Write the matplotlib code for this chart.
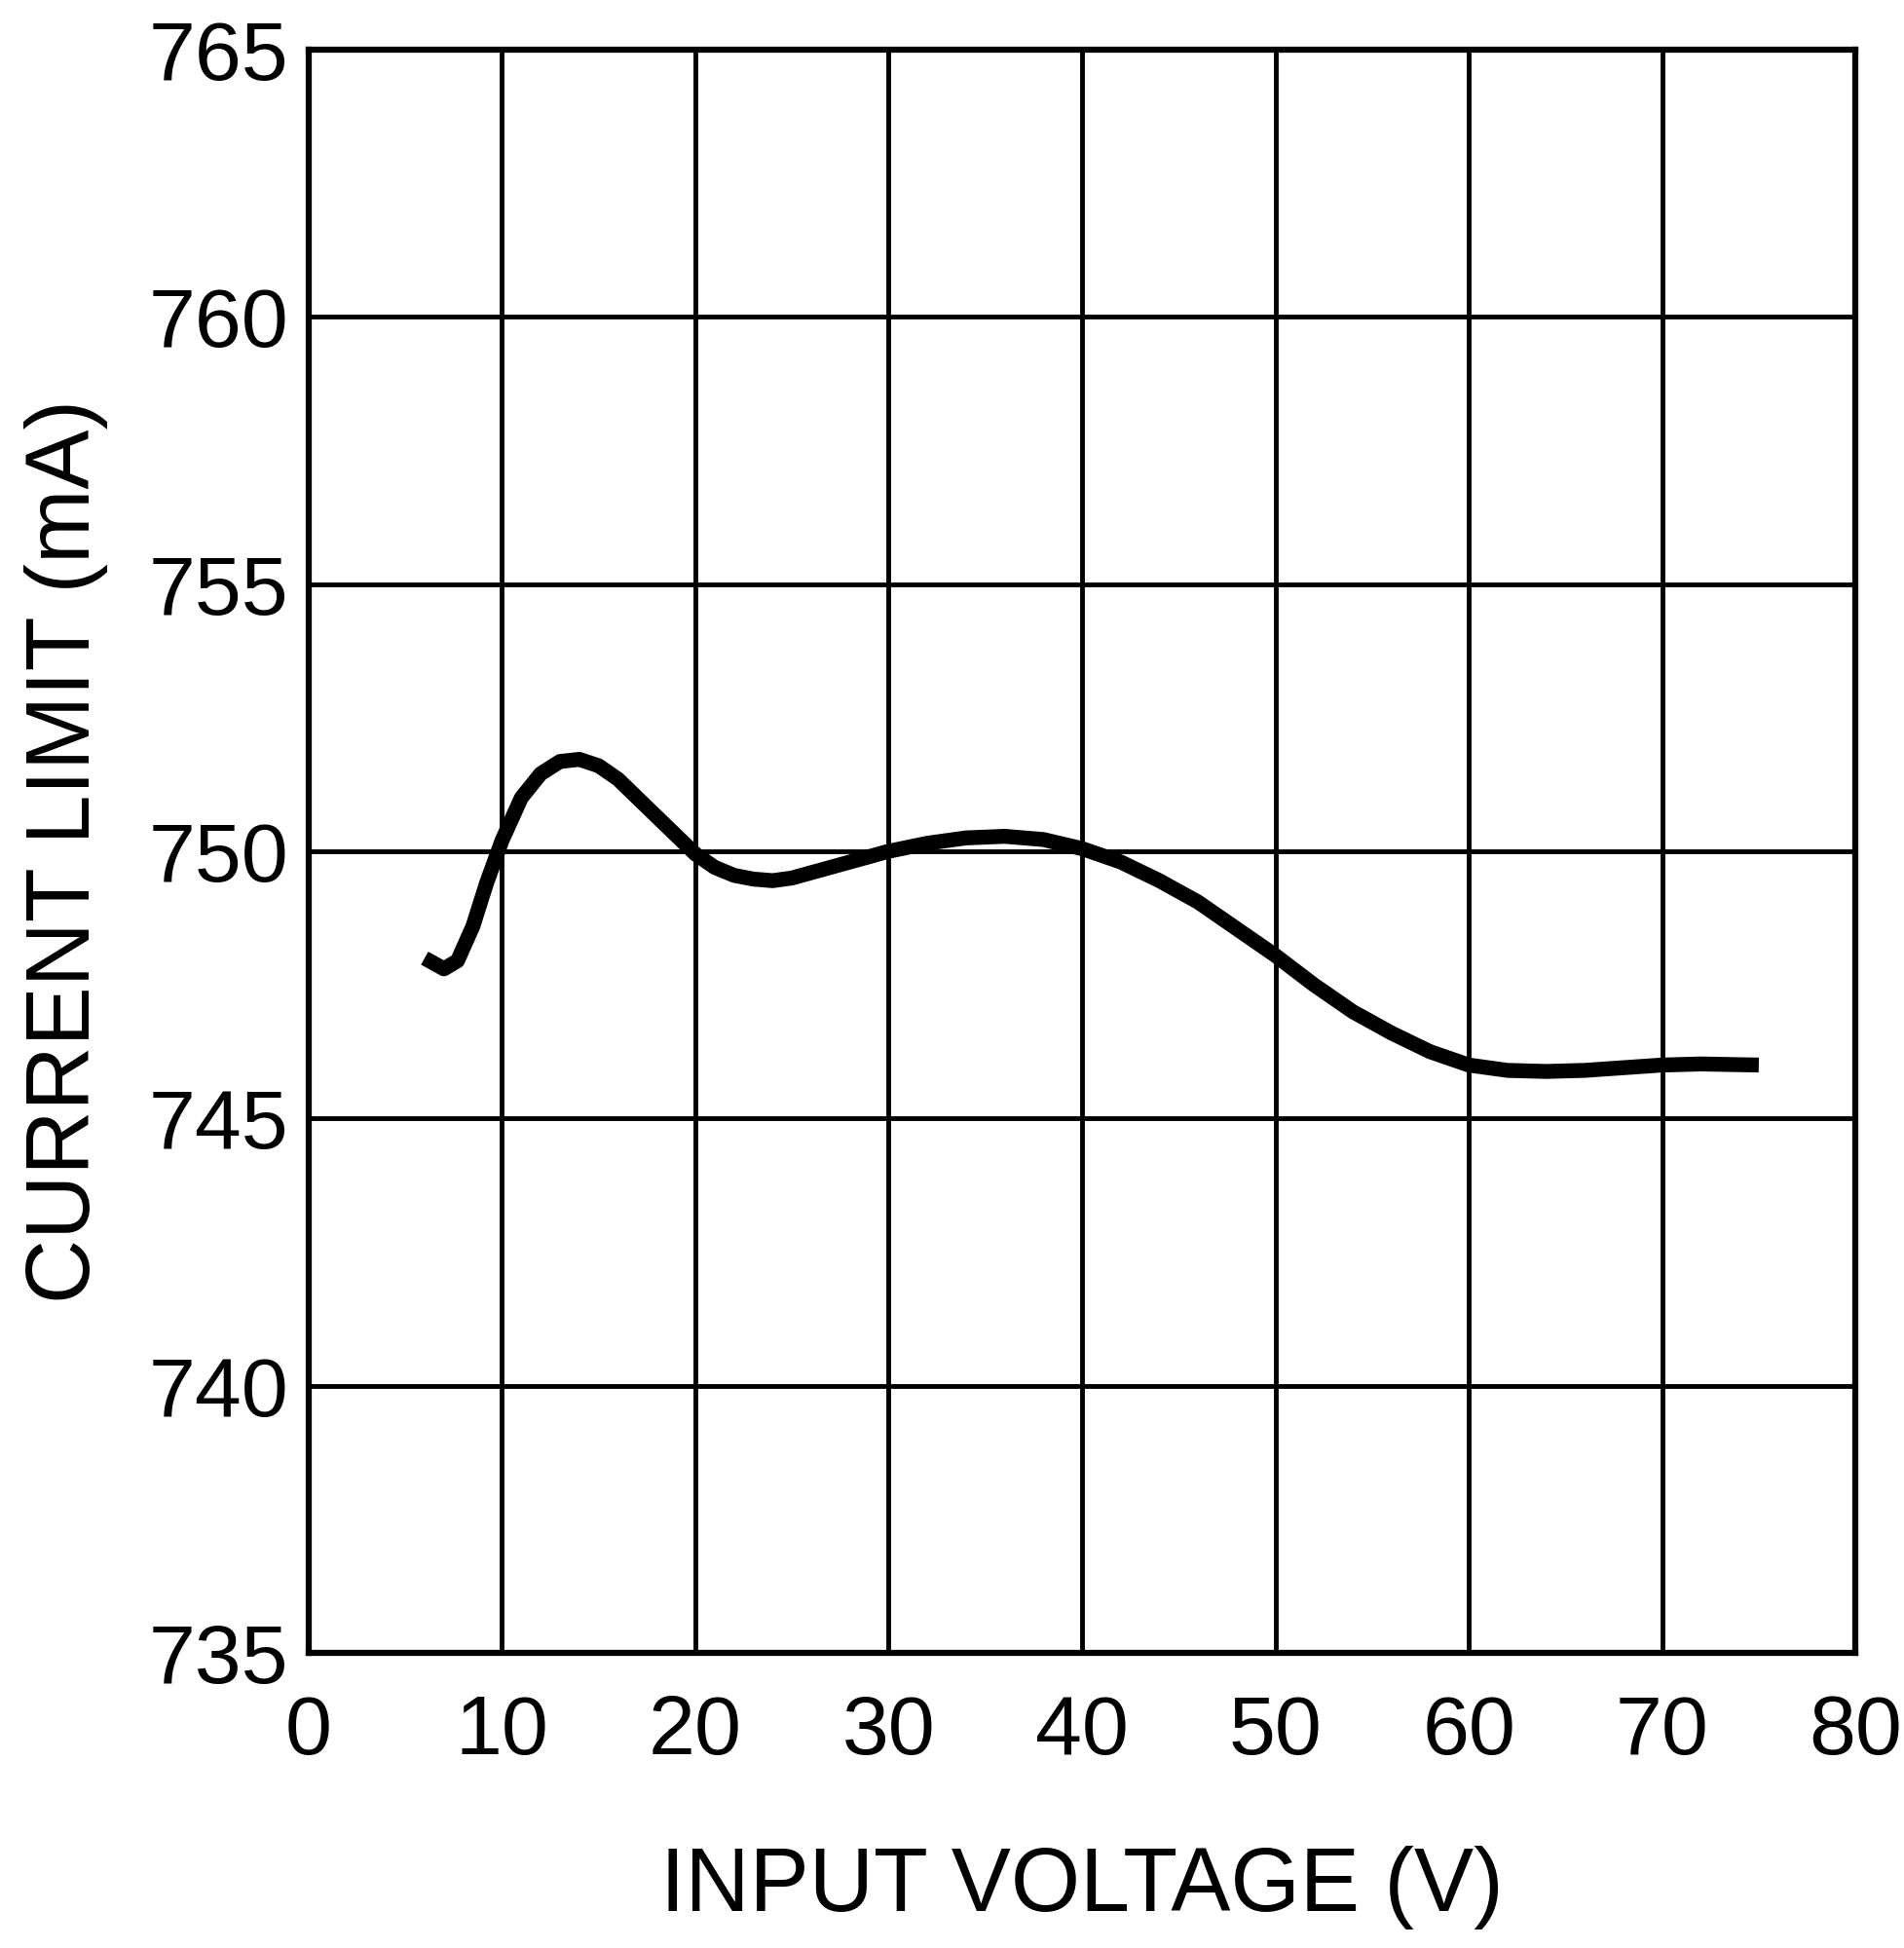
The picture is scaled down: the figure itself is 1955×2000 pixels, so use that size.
import matplotlib
matplotlib.use("Agg")
import matplotlib.pyplot as plt

x = [6, 7, 7.7, 8.5, 9.2, 10, 11, 12, 13, 14, 15, 16, 17, 18, 19, 20, 21, 22, 23, 24, 25, 26, 28, 30, 32, 34, 36, 38, 40,
     42, 44, 46, 48, 50, 52, 54, 56, 58, 60, 62, 64, 66, 68, 70, 72, 75]
y = [748.0, 747.8, 747.95, 748.6, 749.4, 750.2, 751.0, 751.45, 751.68, 751.72, 751.6, 751.35, 751.0, 750.65, 750.3,
     749.95, 749.7, 749.55, 749.48, 749.45, 749.5, 749.6, 749.8, 750.0, 750.15, 750.25, 750.28, 750.22, 750.05,
     749.8, 749.45, 749.05, 748.55, 748.05, 747.5, 747.0, 746.6, 746.25, 746.0, 745.9, 745.88, 745.9, 745.95, 746.0,
     746.02, 746.0]
xticks = [0, 10, 20, 30, 40, 50, 60, 70, 80]
yticks = [735, 740, 745, 750, 755, 760, 765]

plt.rcParams['font.family'] = ['Liberation Sans', 'DejaVu Sans']
fig = plt.figure(figsize=(19.56, 20), dpi=100)
ax = fig.add_axes([0.162, 0.1515, 0.812, 0.823])
ax.plot(x, y, color='black', lw=11, solid_capstyle='butt', solid_joinstyle='round')
ax.set_xlim(0, 80)
ax.set_ylim(735, 765)
ax.set_xticks(xticks)
ax.set_yticks(yticks)
ax.grid(True, color='black', lw=3.5)
for s in ax.spines.values():
    s.set_linewidth(4.5)
ax.tick_params(length=0, labelsize=62)
ax.tick_params(axis='x', pad=30)
ax.tick_params(axis='y', pad=15)
ax.set_xlabel('INPUT VOLTAGE (V)', fontsize=66, labelpad=55)
ax.set_ylabel('CURRENT LIMIT (mA)', fontsize=66, labelpad=30)
fig.savefig('out.png', dpi=100)
